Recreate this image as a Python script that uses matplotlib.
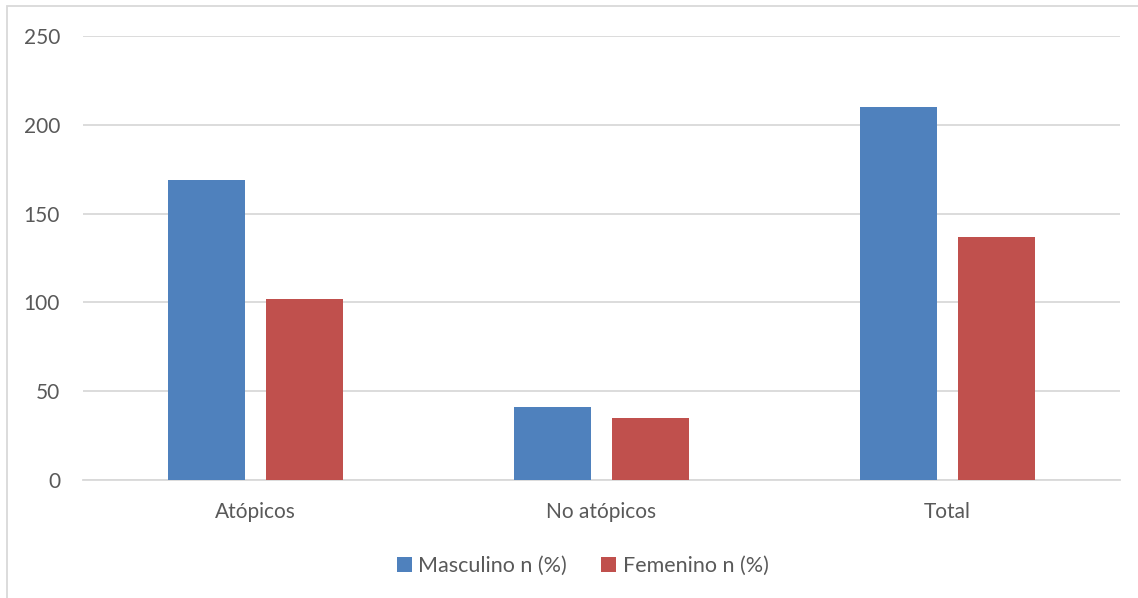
import numpy as np
import matplotlib.pyplot as plt
from matplotlib.patches import Rectangle

categorias = ["Atópicos", "No atópicos", "Total"]
masculino = [169, 41, 210]
femenino = [102, 35, 137]
series = ["Masculino n (%)", "Femenino n (%)"]

azul = "#4F81BD"
rojo = "#C0504D"
gris_texto = "#595959"

plt.rcParams['font.family'] = ['Lato', 'DejaVu Sans']

fig = plt.figure(figsize=(11.38, 5.98), dpi=100)
ax = fig.add_axes([83 / 1138, 118 / 598, 1037 / 1138, 444 / 598])

x = np.arange(len(categorias))
ancho = 0.223
desp = 0.1417
ax.bar(x - desp, masculino, ancho, color=azul, label=series[0], zorder=3)
ax.bar(x + desp, femenino, ancho, color=rojo, label=series[1], zorder=3)

ax.set_xlim(-0.5, len(categorias) - 0.5)
ax.set_ylim(0, 250)
ax.set_yticks(np.arange(0, 251, 50))
ax.set_xticks(x)
ax.set_xticklabels(categorias)
ax.yaxis.grid(True, color="#D9D9D9", linewidth=1.3, zorder=0)
ax.tick_params(axis="y", length=0, pad=16.5, labelsize=15, labelcolor=gris_texto)
ax.tick_params(axis="x", length=0, pad=16, labelsize=15, labelcolor=gris_texto)
for s in ["top", "right", "left"]:
    ax.spines[s].set_visible(False)
ax.spines["bottom"].set_color("#D9D9D9")
ax.spines["bottom"].set_linewidth(1.3)

leg = ax.legend(loc="center", bbox_to_anchor=(0.482, -0.193), ncol=2, frameon=False,
                fontsize=15.5, handlelength=0.68, handleheight=0.68, handletextpad=0.3,
                columnspacing=1.6)
for t in leg.get_texts():
    t.set_color(gris_texto)

# marco del grafico: solo se ven los bordes izquierdo y superior
fig.patches.append(Rectangle((7 / 1138, -0.1), 1.2, 592 / 598 + 0.1,
                             transform=fig.transFigure, fill=False,
                             edgecolor="#D9D9D9", linewidth=1.3))

fig.savefig("out.png", dpi=100)
